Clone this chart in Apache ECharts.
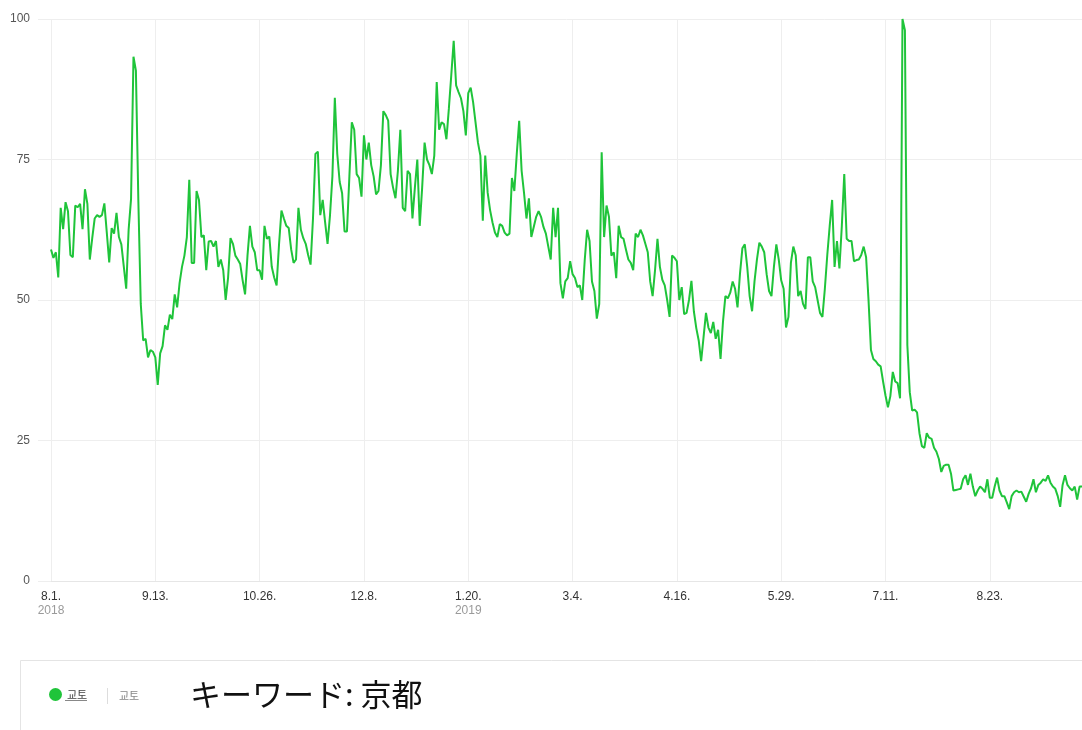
<!DOCTYPE html>
<html>
<head>
<meta charset="utf-8">
<script src="https://cdn.jsdelivr.net/npm/echarts@6/dist/echarts.min.js"></script>
<style>
html,body{margin:0;padding:0;background:#fff;}
#chart{width:1082px;height:730px;}
</style>
</head>
<body>
<div id="chart"></div>
<script>
// ---- data ----
const startDate = '2018-08-01';
const seriesName = '교토';
const keywordText = 'キーワード: 京都';
const yTicks = [0, 25, 50, 75, 100];
const tickEveryDays = 43;
const yearLabels = { '2018-08-01': '2018', '2019-01-20': '2019' };
const values = [
  59, 57.5, 58.5, 54, 66.4, 62.6, 67.4, 65.8, 58, 57.6,
  66.8, 66.5, 67.1, 62.6, 69.7, 67.1, 57.2, 61, 64.5, 65.1,
  64.8, 65.1, 67.2, 62, 56.7, 62.8, 61.8, 65.5, 61.2, 59.9,
  56, 52, 62.5, 68, 93.3, 90.8, 67.8, 49.3, 42.8, 43.1,
  39.8, 41.1, 40.8, 39.8, 34.9, 40.5, 41.8, 45.5, 44.7, 47.4,
  46.6, 51, 48.7, 53, 55.9, 57.9, 61.2, 71.4, 56.6, 56.6,
  69.4, 67.8, 61.2, 61.5, 55.3, 60.4, 60.5, 59.5, 60.5, 55.9,
  57.2, 55.3, 50, 54, 61, 60, 57.9, 57.2, 56.4, 53.5,
  51, 57.9, 63.2, 59.5, 58.5, 55.3, 55.3, 53.6, 63.2, 60.9,
  61.3, 55.9, 54, 52.6, 59.9, 65.9, 64.5, 63.2, 62.8, 59,
  56.6, 57.2, 66.4, 62.5, 61, 60, 58, 56.3, 64.5, 76,
  76.4, 65.1, 67.8, 63.8, 60, 65, 72, 86, 76, 71,
  69, 62.2, 62.2, 72, 81.6, 80.3, 72.4, 71.7, 68.4, 79.3,
  75, 78, 74, 72, 68.8, 69.4, 74, 83.6, 82.9, 81.9,
  72.4, 70, 68.1, 73, 80.3, 66.4, 65.8, 73, 72.4, 64.5,
  70, 75, 63.2, 70, 78, 75, 74, 72.4, 75.7, 88.8,
  80.3, 81.6, 81.3, 78.6, 84, 90, 96.1, 88.2, 87, 85.9,
  83.6, 79.3, 86.8, 87.8, 85.2, 81.6, 78, 75.7, 64.1, 75.7,
  69.1, 66, 63.8, 62, 61.2, 63.5, 63.2, 62, 61.5, 61.8,
  71.7, 69.4, 76, 81.9, 73, 69, 64.5, 68.1, 61.2, 63,
  64.8, 65.8, 64.8, 63, 61.8, 59.5, 57.2, 66.4, 61.2, 66.4,
  53, 50.3, 53.3, 53.9, 56.9, 54.6, 53.9, 52.3, 52.6, 50,
  57, 62.5, 60.5, 53.3, 51.6, 46.7, 49.3, 76.3, 61.2, 66.8,
  64.8, 57.9, 58.5, 53.9, 63.2, 61.2, 60.9, 59, 57.2, 56.6,
  55.3, 61.8, 61.2, 62.5, 61.5, 60, 58.5, 53.3, 50.7, 55.3,
  60.9, 55.9, 53.6, 52.6, 50, 47, 57.9, 57.5, 56.9, 50,
  52.3, 47.5, 47.7, 50, 53.4, 48, 45, 42.8, 39.1, 43.4,
  47.7, 45.1, 44.1, 46.1, 43.1, 44.7, 39.5, 46.1, 50.7, 50.3,
  51.3, 53.3, 52, 48.7, 54.6, 59.2, 59.9, 55.9, 50.7, 48,
  53.3, 57.2, 60.2, 59.5, 58.5, 54.6, 51.6, 50.7, 55.9, 59.9,
  57.2, 53.5, 52, 45.1, 47, 56.6, 59.5, 57.9, 50.7, 51.6,
  49.3, 48.4, 57.6, 57.6, 53.3, 52.3, 50, 47.7, 47, 52,
  58, 63.2, 67.8, 55.9, 60.5, 55.6, 63.2, 72.4, 60.9, 60.5,
  60.5, 56.9, 57.1, 57.2, 58, 59.5, 57.6, 50, 41.1, 39.5,
  39.1, 38.5, 38.2, 35.5, 33, 30.9, 32.9, 37.2, 35.5, 35.2,
  32.5, 100, 98, 42, 33.6, 30.3, 30.5, 30, 26.3, 24,
  23.7, 26.3, 25.5, 25.3, 23.7, 23, 21.7, 19.4, 20.5, 20.7,
  20.7, 19.1, 16.1, 16.2, 16.3, 16.4, 18.1, 18.8, 17.1, 19.1,
  16.8, 15.1, 16.1, 16.8, 16.4, 15.8, 18.1, 14.8, 14.8, 16.8,
  18.4, 16.1, 15.1, 15.1, 14, 12.8, 15.1, 15.8, 16.1, 15.8,
  15.9, 15, 14.1, 15.5, 16.5, 18.1, 15.8, 17.1, 17.5, 18.1,
  17.8, 18.8, 17.5, 16.8, 16.4, 15.1, 13.2, 17.1, 18.8, 17.1,
  16.5, 16.1, 16.8, 14.5, 16.8, 16.8
];

// ---- categories (one per day) ----
function pad(n){return n < 10 ? '0' + n : '' + n;}
const dates = [];
(function(){
  const p = startDate.split('-').map(Number);
  for (let i = 0; i < values.length; i++) {
    const d = new Date(Date.UTC(p[0], p[1]-1, p[2] + i));
    dates.push(d.getUTCFullYear() + '-' + pad(d.getUTCMonth()+1) + '-' + pad(d.getUTCDate()));
  }
})();

const gridColor = '#eeeeee';
const numFont = '"Liberation Sans Narrow", "Liberation Sans", "DejaVu Sans Condensed", sans-serif';
const cjkKR = '"Noto Sans CJK KR", "Noto Sans", sans-serif';
const cjkJP = '"Noto Sans CJK JP", "Noto Sans", sans-serif';

const chart = echarts.init(document.getElementById('chart'), null, {renderer: 'canvas'});
const showTick = (idx) => idx % tickEveryDays === 0;

chart.setOption({
  animation: false,
  backgroundColor: '#ffffff',
  grid: {left: 51, right: 0, top: 19, bottom: 149, containLabel: false},
  xAxis: {
    type: 'category',
    data: dates,
    boundaryGap: false,
    axisLine: {show: true, lineStyle: {color: '#e6e6e6', width: 1}},
    axisTick: {show: false},
    splitLine: {show: true, interval: (i) => showTick(i), lineStyle: {color: gridColor, width: 1}},
    axisLabel: {
      interval: (i) => showTick(i),
      margin: 9,
      fontFamily: numFont,
      formatter: function (v) {
        const p = v.split('-');
        const md = Number(p[1]) + '.' + Number(p[2]) + '.';
        const yr = yearLabels[v];
        return yr ? '{md|' + md + '}\n{yr|' + yr + '}' : '{md|' + md + '}';
      },
      rich: {
        md: {fontSize: 12, color: '#333', fontFamily: numFont, lineHeight: 14},
        yr: {fontSize: 12, color: '#9a9a9a', fontFamily: numFont, lineHeight: 14}
      }
    }
  },
  yAxis: {
    type: 'value',
    min: yTicks[0],
    max: yTicks[yTicks.length - 1],
    interval: 25,
    axisLine: {show: false},
    axisTick: {show: true, length: 13, lineStyle: {color: gridColor}},
    splitLine: {show: true, lineStyle: {color: gridColor, width: 1}},
    axisLabel: {margin: 21, fontSize: 12, color: '#555', fontFamily: numFont}
  },
  legend: {
    show: true,
    left: 44,
    top: 683,
    icon: 'circle',
    itemWidth: 13,
    itemHeight: 13,
    itemGap: 4,
    textStyle: {fontSize: 11, color: '#444', fontFamily: cjkKR, padding: [0, 0, 6, 0]},
    data: [seriesName]
  },
  series: [{
    name: seriesName,
    type: 'line',
    data: values,
    showSymbol: false,
    symbol: 'none',
    smooth: false,
    color: '#1fc43a',
    lineStyle: {color: '#1fc43a', width: 2},
    z: 3
  }],
  graphic: [
    {type: 'line', shape: {x1: 20.5, y1: 660.5, x2: 1082, y2: 660.5}, style: {stroke: '#e4e4e4', lineWidth: 1}},
    {type: 'line', shape: {x1: 20.5, y1: 660.5, x2: 20.5, y2: 730}, style: {stroke: '#e4e4e4', lineWidth: 1}},
    {type: 'line', shape: {x1: 65, y1: 700.5, x2: 87, y2: 700.5}, style: {stroke: '#888', lineWidth: 1}},
    {type: 'line', shape: {x1: 107.5, y1: 688, x2: 107.5, y2: 704}, style: {stroke: '#dddddd', lineWidth: 1}},
    {type: 'text', left: 119, top: 690, style: {text: seriesName, fontSize: 11, fill: '#888', fontFamily: cjkKR}},
    {type: 'text', left: 190, top: 679, style: {text: keywordText, fontSize: 31, fill: '#111', fontFamily: cjkJP}}
  ]
});
</script>
</body>
</html>
